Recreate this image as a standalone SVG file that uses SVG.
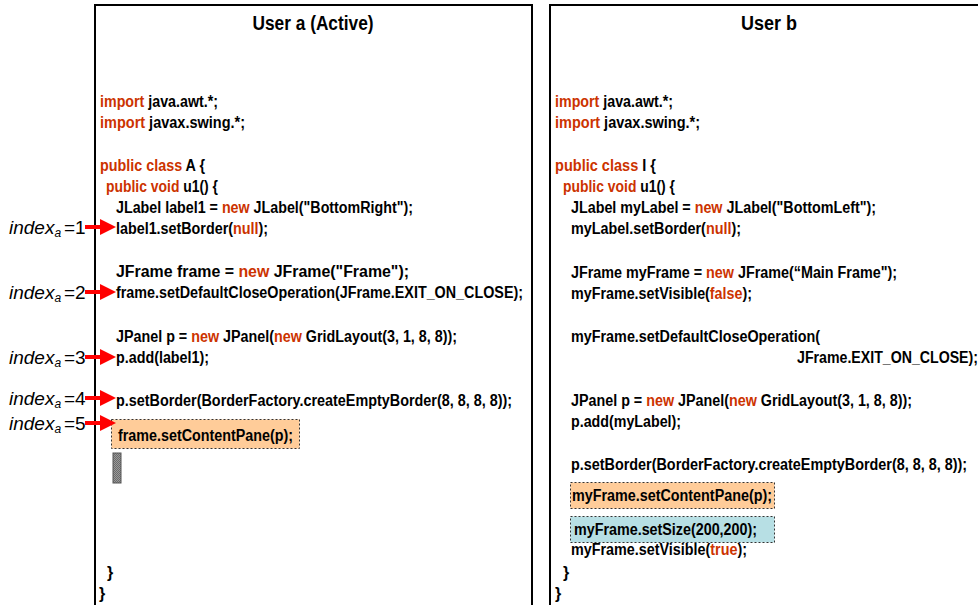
<svg xmlns="http://www.w3.org/2000/svg" width="978" height="605" viewBox="0 0 978 605">
  <style>
    .code { font-family: "Liberation Sans", Arial, sans-serif; font-size: 16px; font-weight: bold; fill: #000; }
    .kw { fill: #cc3300; }
    .title { font-family: "Liberation Sans", Arial, sans-serif; font-size: 20px; font-weight: bold; fill: #000; }
    .idx { font-family: "Liberation Sans", Arial, sans-serif; font-size: 19px; fill: #000; }
    .it { font-style: italic; }
    .sub { font-style: italic; font-size: 12px; }
    .panel { fill: #fff; stroke: #000; stroke-width: 2; }
    .hl-a { fill: #ffcc99; stroke: #333; stroke-width: 1; stroke-dasharray: 2 2; }
    .hl-b { fill: #b7dfe4; stroke: #333; stroke-width: 1; stroke-dasharray: 2 2; }
    .ptr { stroke: #ff0000; stroke-width: 4; fill: none; }
  </style>
  <defs>
    <marker id="arrowhead" markerWidth="4" markerHeight="4" refX="1" refY="2" orient="auto" markerUnits="strokeWidth">
      <path d="M0,0 L4,2 L0,4 Z" fill="#ff0000"/>
    </marker>
    <pattern id="dots" width="2" height="2" patternUnits="userSpaceOnUse">
      <rect width="2" height="2" fill="#9a9a9a"/>
      <rect width="1" height="1" fill="#6a6a6a"/>
      <rect x="1" y="1" width="1" height="1" fill="#6a6a6a"/>
    </pattern>
  </defs>
  <rect width="978" height="605" fill="#fff"/>

  <!-- Panel: user a -->
  <g id="panel-a">
    <rect class="panel" x="95" y="5" width="437" height="620"/>
    <text class="title" x="313" y="30" text-anchor="middle" textLength="121" lengthAdjust="spacingAndGlyphs">User a (Active)</text>
    <text class="code" x="100" y="107" textLength="118" lengthAdjust="spacingAndGlyphs"><tspan class="kw">import</tspan> java.awt.*;</text>
    <text class="code" x="100" y="128" textLength="145" lengthAdjust="spacingAndGlyphs"><tspan class="kw">import</tspan> javax.swing.*;</text>
    <text class="code" x="100" y="171" textLength="105" lengthAdjust="spacingAndGlyphs"><tspan class="kw">public class</tspan> A {</text>
    <text class="code" x="106" y="192" textLength="112" lengthAdjust="spacingAndGlyphs"><tspan class="kw">public void</tspan> u1() {</text>
    <text class="code" x="116" y="213" textLength="297" lengthAdjust="spacingAndGlyphs">JLabel label1 = <tspan class="kw">new</tspan> JLabel("BottomRight");</text>
    <text class="code" x="116" y="234" textLength="152" lengthAdjust="spacingAndGlyphs">label1.setBorder(<tspan class="kw">null</tspan>);</text>
    <text class="code" x="116" y="277" textLength="293" lengthAdjust="spacingAndGlyphs">JFrame frame = <tspan class="kw">new</tspan> JFrame("Frame");</text>
    <text class="code" x="116" y="298" textLength="407" lengthAdjust="spacingAndGlyphs">frame.setDefaultCloseOperation(JFrame.EXIT_ON_CLOSE);</text>
    <text class="code" x="116" y="342" textLength="341" lengthAdjust="spacingAndGlyphs">JPanel p = <tspan class="kw">new</tspan> JPanel(<tspan class="kw">new</tspan> GridLayout(3, 1, 8, 8));</text>
    <text class="code" x="116" y="363" textLength="93" lengthAdjust="spacingAndGlyphs">p.add(label1);</text>
    <text class="code" x="116" y="406" textLength="396" lengthAdjust="spacingAndGlyphs">p.setBorder(BorderFactory.createEmptyBorder(8, 8, 8, 8));</text>
    <rect class="hl-a" x="111.5" y="419.5" width="188" height="29"/>
    <text class="code" x="118" y="441" textLength="175" lengthAdjust="spacingAndGlyphs">frame.setContentPane(p);</text>
    <rect x="113" y="453" width="8" height="30" fill="url(#dots)" stroke="#555" stroke-width="1"/>
    <text class="code" x="107" y="578">}</text>
    <text class="code" x="99" y="599">}</text>
  </g>

  <!-- Panel: user b -->
  <g id="panel-b">
    <rect class="panel" x="550" y="5" width="500" height="620"/>
    <text class="title" x="769" y="30" text-anchor="middle" textLength="56" lengthAdjust="spacingAndGlyphs">User b</text>
    <text class="code" x="555" y="107" textLength="118" lengthAdjust="spacingAndGlyphs"><tspan class="kw">import</tspan> java.awt.*;</text>
    <text class="code" x="555" y="128" textLength="145" lengthAdjust="spacingAndGlyphs"><tspan class="kw">import</tspan> javax.swing.*;</text>
    <text class="code" x="555" y="171" textLength="101" lengthAdjust="spacingAndGlyphs"><tspan class="kw">public class</tspan> I {</text>
    <text class="code" x="563" y="192" textLength="112" lengthAdjust="spacingAndGlyphs"><tspan class="kw">public void</tspan> u1() {</text>
    <text class="code" x="571" y="213" textLength="305" lengthAdjust="spacingAndGlyphs">JLabel myLabel = <tspan class="kw">new</tspan> JLabel("BottomLeft");</text>
    <text class="code" x="571" y="234" textLength="170" lengthAdjust="spacingAndGlyphs">myLabel.setBorder(<tspan class="kw">null</tspan>);</text>
    <text class="code" x="571" y="278" textLength="326" lengthAdjust="spacingAndGlyphs">JFrame myFrame = <tspan class="kw">new</tspan> JFrame(“Main Frame");</text>
    <text class="code" x="571" y="299" textLength="181" lengthAdjust="spacingAndGlyphs">myFrame.setVisible(<tspan class="kw">false</tspan>);</text>
    <text class="code" x="571" y="342" textLength="249" lengthAdjust="spacingAndGlyphs">myFrame.setDefaultCloseOperation(</text>
    <text class="code" x="797" y="363" textLength="181" lengthAdjust="spacingAndGlyphs">JFrame.EXIT_ON_CLOSE);</text>
    <text class="code" x="571" y="406" textLength="341" lengthAdjust="spacingAndGlyphs">JPanel p = <tspan class="kw">new</tspan> JPanel(<tspan class="kw">new</tspan> GridLayout(3, 1, 8, 8));</text>
    <text class="code" x="571" y="427" textLength="110" lengthAdjust="spacingAndGlyphs">p.add(myLabel);</text>
    <text class="code" x="571" y="470" textLength="396" lengthAdjust="spacingAndGlyphs">p.setBorder(BorderFactory.createEmptyBorder(8, 8, 8, 8));</text>
    <rect class="hl-a" x="570.5" y="482.5" width="204" height="26"/>
    <text class="code" x="572" y="501" textLength="200" lengthAdjust="spacingAndGlyphs">myFrame.setContentPane(p);</text>
    <rect class="hl-b" x="570.5" y="516.5" width="204" height="26"/>
    <text class="code" x="574" y="535" textLength="183" lengthAdjust="spacingAndGlyphs">myFrame.setSize(200,200);</text>
    <text class="code" x="571" y="555" textLength="176" lengthAdjust="spacingAndGlyphs">myFrame.setVisible(<tspan class="kw">true</tspan>);</text>
    <text class="code" x="563" y="578">}</text>
    <text class="code" x="555" y="599">}</text>
  </g>

  <!-- Index labels -->
  <g id="index-1"><text class="idx" x="9" y="234"><tspan class="it">index</tspan><tspan class="sub" dy="3">a</tspan><tspan x="64" dy="-3">=</tspan><tspan x="75">1</tspan></text></g>
  <g id="index-2"><text class="idx" x="9" y="299"><tspan class="it">index</tspan><tspan class="sub" dy="3">a</tspan><tspan x="64" dy="-3">=</tspan><tspan x="75">2</tspan></text></g>
  <g id="index-3"><text class="idx" x="9" y="364"><tspan class="it">index</tspan><tspan class="sub" dy="3">a</tspan><tspan x="64" dy="-3">=</tspan><tspan x="75">3</tspan></text></g>
  <g id="index-4"><text class="idx" x="9" y="405"><tspan class="it">index</tspan><tspan class="sub" dy="3">a</tspan><tspan x="64" dy="-3">=</tspan><tspan x="75">4</tspan></text></g>
  <g id="index-5"><text class="idx" x="9" y="430"><tspan class="it">index</tspan><tspan class="sub" dy="3">a</tspan><tspan x="64" dy="-3">=</tspan><tspan x="75">5</tspan></text></g>

  <!-- Pointer arrows -->
  <g id="connectors">
    <line class="ptr" x1="85" y1="227" x2="104" y2="227" marker-end="url(#arrowhead)"/>
    <line class="ptr" x1="85" y1="292" x2="104" y2="292" marker-end="url(#arrowhead)"/>
    <line class="ptr" x1="85" y1="357" x2="104" y2="357" marker-end="url(#arrowhead)"/>
    <line class="ptr" x1="85" y1="398" x2="104" y2="398" marker-end="url(#arrowhead)"/>
    <line class="ptr" x1="85" y1="423" x2="104" y2="423" marker-end="url(#arrowhead)"/>
  </g>
</svg>
